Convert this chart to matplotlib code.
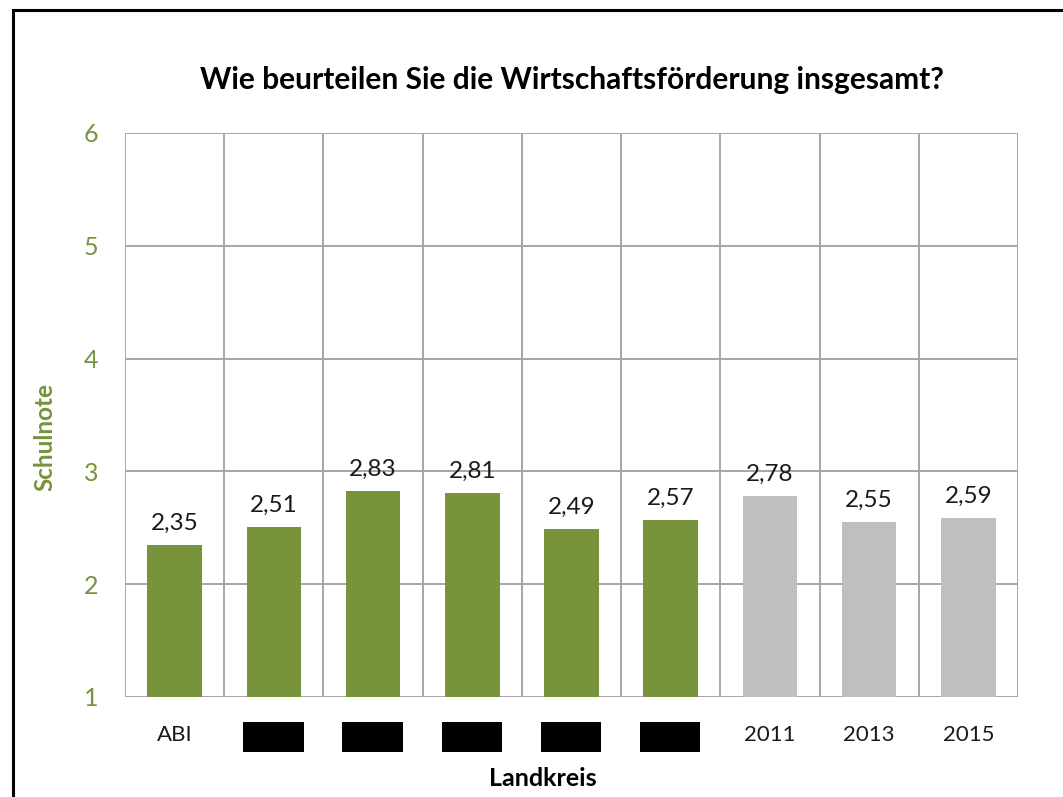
import numpy as np
import matplotlib.pyplot as plt
from matplotlib.patches import Rectangle
import matplotlib.transforms as mtransforms

# Noten pro Kategorie (Landkreise geschwärzt)
kategorien = ['ABI', '', '', '', '', '', '2011', '2013', '2015']
geschwaerzt = [False, True, True, True, True, True, False, False, False]
noten = [2.35, 2.51, 2.83, 2.81, 2.49, 2.57, 2.78, 2.55, 2.59]
farben = ['#77933c'] * 6 + ['#bfbfbf'] * 3

gruen = '#77933c'
grid_col = '#a6a6a6'
plt.rcParams['font.family'] = ['Lato', 'DejaVu Sans']

fig = plt.figure(figsize=(10.63, 7.97), dpi=100, facecolor='white')
W, H = 1063, 797
ax = fig.add_axes([125 / W, 1 - 697 / H, (1018 - 125) / W, (697 - 133) / H])

x = np.arange(len(noten))
ax.bar(x, np.array(noten) - 1, bottom=1, width=0.55, color=farben, zorder=3)
for xi, v in zip(x, noten):
    ax.annotate('{:.2f}'.format(v).replace('.', ','), (xi, v), xytext=(0, 8),
                textcoords='offset points', ha='center', va='bottom',
                fontsize=17.5, color='#1a1a1a', zorder=4)

ax.set_xlim(-0.5, len(noten) - 0.5)
ax.set_ylim(1, 6)
ax.set_yticks([1, 2, 3, 4, 5, 6])
ax.set_xticks(x)
ax.set_xticklabels(kategorien, fontsize=16, color='#1a1a1a')
ax.tick_params(axis='x', length=0, pad=20)
ax.tick_params(axis='y', length=0, pad=19, labelsize=18, labelcolor=gruen)

# Gitter: horizontale Linien bei ganzen Noten, vertikale zwischen Kategorien
for yv in range(1, 7):
    ax.axhline(yv, color=grid_col, lw=1.4, zorder=1)
for xb in np.arange(-0.5, len(noten), 1.0):
    ax.axvline(xb, color=grid_col, lw=1.4, zorder=1)
for s in ax.spines.values():
    s.set_visible(False)

# geschwärzte Beschriftungen
trans = mtransforms.blended_transform_factory(ax.transData, ax.transAxes)
for xi, g in zip(x, geschwaerzt):
    if g:
        ax.add_patch(Rectangle((xi - 0.31, -0.0975), 0.61, 0.053, transform=trans,
                               facecolor='black', edgecolor='none', clip_on=False))

fig.text(572 / W, 1 - 80 / H, 'Wie beurteilen Sie die Wirtschaftsförderung insgesamt?',
         ha='center', va='center', fontsize=21.5, fontweight='bold', color='black')
fig.text(45 / W, 1 - 437 / H, 'Schulnote', rotation=90, ha='center', va='center',
         fontsize=17.5, fontweight='bold', color=gruen)
fig.text(543 / W, 1 - 778 / H, 'Landkreis', ha='center', va='center',
         fontsize=18, fontweight='bold', color='black')

# Rahmen um das Diagramm
fig.patches.append(Rectangle((13 / W, -0.05), 1.1, 1 - 10 / H + 0.05, transform=fig.transFigure,
                             fill=False, edgecolor='black', lw=2.2))

fig.savefig('out.png', dpi=100, facecolor='white')
